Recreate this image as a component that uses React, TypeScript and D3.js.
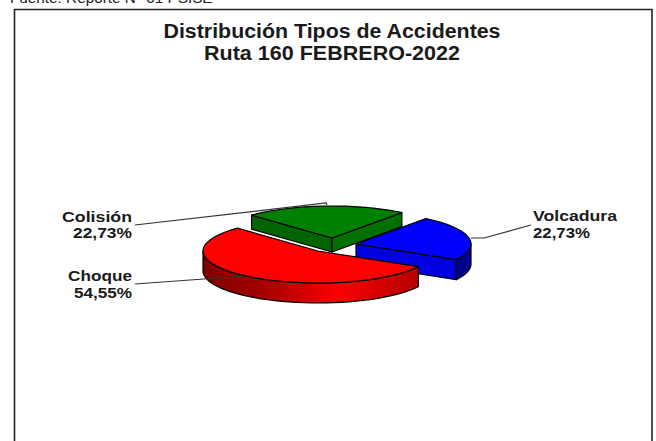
import React from "react";
import * as d3 from "d3";

const categories = ["Colisión", "Volcadura", "Choque"];
const shares = [22.73, 22.73, 54.55];
const percentLabels = ["22,73%", "22,73%", "54,55%"];
const titleLines = ["Distribución Tipos de Accidentes", "Ruta 160 FEBRERO-2022"];
const sourceLine = "Fuente: Reporte N° 01 PSISE";

const RX = 115;
const RY = 32;
const centers = [
  { x: 332, y: 238, depth: 14 },
  { x: 356, y: 244, depth: 20 },
  { x: 318, y: 251, depth: 20 },
];
const START = -44.4 * (Math.PI / 180);

const arcs = d3
  .pie<number>()
  .sort(null)
  .startAngle(START)
  .endAngle(START + 2 * Math.PI)(shares);

const px = (c: { x: number }, a: number) => c.x + RX * Math.sin(a);
const py = (c: { y: number }, a: number) => c.y - RY * Math.cos(a);

// elliptical rim sampled along a slice
const rim = (c: { x: number; y: number }, a0: number, a1: number, dy = 0) =>
  d3.range(0, 41).map((i) => {
    const a = a0 + ((a1 - a0) * i) / 40;
    return [px(c, a), py(c, a) + dy] as [number, number];
  });
const line = d3.line();
const closed = (pts: [number, number][]) => line(pts) + "Z";

const topPath = (i: number) => {
  const c = centers[i];
  return closed([[c.x, c.y], ...rim(c, arcs[i].startAngle, arcs[i].endAngle)]);
};
const outerWall = (i: number, a0: number, a1: number) => {
  const c = centers[i];
  return closed([...rim(c, a0, a1), ...rim(c, a0, a1, c.depth).reverse()]);
};
const radialWall = (i: number, a: number) => {
  const c = centers[i];
  const e: [number, number] = [px(c, a), py(c, a)];
  return closed([[c.x, c.y], e, [e[0], e[1] + c.depth], [c.x, c.y + c.depth]]);
};

const stroke = { stroke: "#000", strokeWidth: 1.2, strokeLinejoin: "round" as const };
const FONT = "'Liberation Sans', Arial, sans-serif";
const labelStyle = {
  fontFamily: FONT,
  fontWeight: 700,
  fontSize: 15.5,
  fill: "#1a1a1a",
  lengthAdjust: "spacingAndGlyphs" as const,
};

export default function App() {
  const [g, b, r] = arcs;
  return (
    <svg
      width={656}
      height={441}
      style={{ position: "fixed", left: 0, top: 0, background: "#fff" }}
    >
      <defs>
        <linearGradient id="redWall" gradientUnits="userSpaceOnUse" x1={203} x2={420} y1={0} y2={0}>
          <stop offset="0" stopColor="#800000" />
          <stop offset="0.25" stopColor="#a00000" />
          <stop offset="0.62" stopColor="#fa0000" />
          <stop offset="1" stopColor="#b40000" />
        </linearGradient>
      </defs>
      <text x={10} y={3} fontFamily={FONT} fontSize={15.3} fill="#222">
        {sourceLine}
      </text>
      <path d="M14.5,441V9.5H652V441" fill="none" stroke="#222" strokeWidth={1.6} />
      {titleLines.map((t, i) => (
        <text
          key={t}
          x={332}
          y={38 + i * 22}
          textAnchor="middle"
          fontFamily={FONT}
          fontWeight={700}
          fontSize={19.5}
          fill="#1a1a1a"
          textLength={i === 0 ? 337 : 256}
          lengthAdjust="spacingAndGlyphs"
        >
          {t}
        </text>
      ))}

      {/* Colisión slice */}
      <path d={radialWall(0, g.startAngle)} fill="#006400" {...stroke} />
      <path d={radialWall(0, g.endAngle)} fill="#007000" {...stroke} />
      <path d={topPath(0)} fill="#008000" {...stroke} />

      {/* Volcadura slice */}
      <path d={radialWall(1, b.endAngle)} fill="#0000e0" {...stroke} />
      <path d={outerWall(1, Math.PI / 2, b.endAngle)} fill="#000090" {...stroke} />
      <path d={topPath(1)} fill="#0000ff" {...stroke} />

      {/* Choque slice */}
      <path d={outerWall(2, r.startAngle, 1.5 * Math.PI)} fill="url(#redWall)" {...stroke} />
      <path d={topPath(2)} fill="#ff0000" {...stroke} />

      {/* leader lines */}
      <polyline points="135,225 326,203 327,205" fill="none" stroke="#333" strokeWidth={1.2} />
      <polyline points="135,284 245,276" fill="none" stroke="#333" strokeWidth={1.2} />
      <polyline points="471,238 484,238 531,225" fill="none" stroke="#333" strokeWidth={1.2} />

      {/* labels */}
      <text x={132} y={222} textAnchor="end" textLength={70} {...labelStyle}>{categories[0]}</text>
      <text x={132} y={238} textAnchor="end" textLength={59} {...labelStyle}>{percentLabels[0]}</text>
      <text x={132} y={281} textAnchor="end" textLength={64} {...labelStyle}>{categories[2]}</text>
      <text x={132} y={298} textAnchor="end" textLength={58} {...labelStyle}>{percentLabels[2]}</text>
      <text x={533} y={221} textLength={84} {...labelStyle}>{categories[1]}</text>
      <text x={533} y={238} textLength={57} {...labelStyle}>{percentLabels[1]}</text>
    </svg>
  );
}
